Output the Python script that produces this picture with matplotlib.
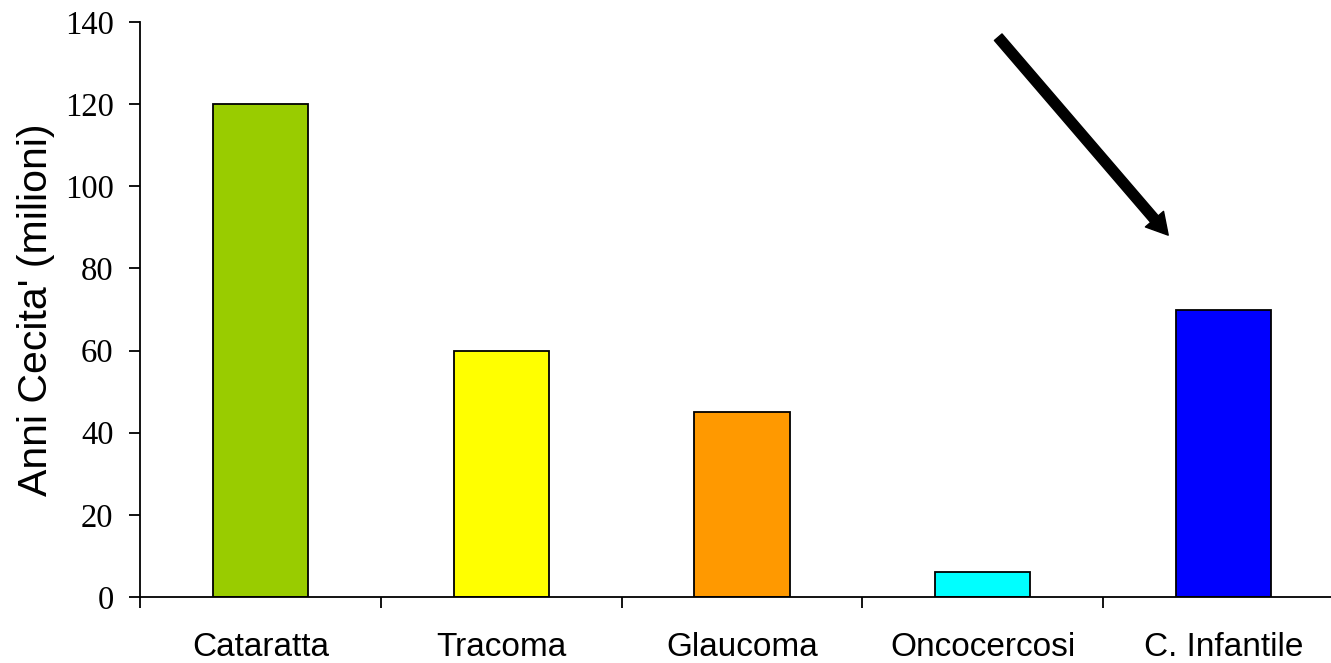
import matplotlib
matplotlib.use("Agg")
import matplotlib.pyplot as plt
from matplotlib.ticker import FixedLocator, NullFormatter

categories = ["Cataratta", "Tracoma", "Glaucoma", "Oncocercosi", "C. Infantile"]
values = [120, 60, 45, 6, 70]
colors = ["#99CC00", "#FFFF00", "#FF9900", "#00FFFF", "#0000FF"]
yticks = [0, 20, 40, 60, 80, 100, 120, 140]
ylabel = "Anni Cecita' (milioni)"
arrow_tail = (3.064, 136.3)
arrow_head = (3.77, 88.1)

fig = plt.figure(figsize=(13.31, 6.63), dpi=100)
ax = fig.add_axes([140/1331, 1-597/663, 1204/1331, 575/663])

x = list(range(len(categories)))
ax.bar(x, values, width=0.395, color=colors, edgecolor="black", linewidth=1.3)

ax.set_xlim(-0.5, len(categories) - 0.5)
ax.set_ylim(0, 140)

for s in ["top", "right"]:
    ax.spines[s].set_visible(False)
for s in ["left", "bottom"]:
    ax.spines[s].set_linewidth(1.3)

ax.set_yticks(yticks)
ax.set_yticklabels([str(v) for v in yticks], fontfamily="Liberation Serif", fontsize=23.5)
ax.tick_params(axis="y", direction="out", length=8, width=1.3, pad=11)

ax.set_xticks(x)
ax.set_xticklabels(categories, fontfamily="Liberation Sans", fontsize=24)
ax.tick_params(axis="x", which="major", length=0, pad=25.5)
ax.xaxis.set_minor_locator(FixedLocator([i - 0.5 for i in range(len(categories) + 1)]))
ax.xaxis.set_minor_formatter(NullFormatter())
ax.tick_params(axis="x", which="minor", direction="out", length=8, width=1.3)

ax.set_ylabel(ylabel, fontfamily="Liberation Sans", fontsize=29.5)
ax.yaxis.set_label_coords(-0.0706, 0.5)

ax.annotate("", xy=arrow_head, xytext=arrow_tail, xycoords="data", textcoords="data",
            arrowprops=dict(arrowstyle="simple,head_length=0.76,head_width=0.86,tail_width=0.36",
                            mutation_scale=20, color="black", shrinkA=0, shrinkB=0),
            annotation_clip=False)

fig.savefig("out.png", dpi=100)
